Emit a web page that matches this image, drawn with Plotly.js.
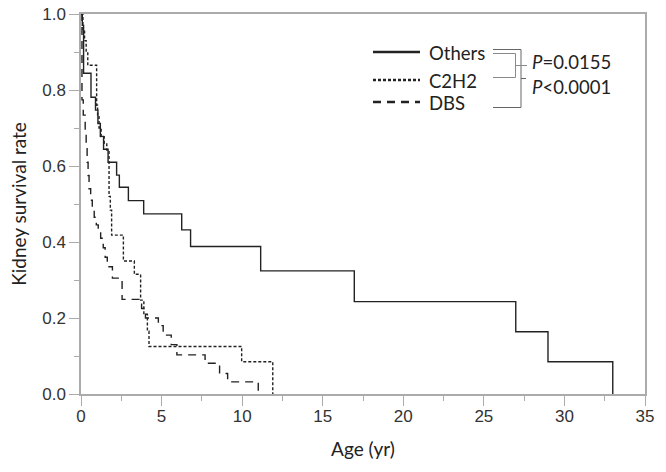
<!DOCTYPE html>
<html>
<head>
<meta charset="utf-8">
<script src="https://cdn.plot.ly/plotly-3.0.1.min.js"></script>
<style>
  body { margin: 0; background: #fff; }
  #plot { width: 666px; height: 472px; }
</style>
</head>
<body>
<div id="plot"></div>
<script>
// Kaplan-Meier steps (age in years, survival rate)
var othersAge  = [0, 0.08, 0.16, 0.62, 0.9, 1.05, 1.2, 1.4, 1.68, 2.21, 2.38, 2.94, 3.89, 6.25, 6.8, 11.15, 16.96, 26.98, 28.98, 33.0];
var othersSurv = [1.0, 0.97, 0.844, 0.781, 0.747, 0.712, 0.678, 0.644, 0.61, 0.576, 0.544, 0.509, 0.474, 0.432, 0.388, 0.324, 0.243, 0.164, 0.085, 0];

var c2h2Age  = [0, 0.12, 0.22, 0.32, 0.42, 0.97, 1.03, 1.12, 1.25, 1.44, 1.6, 1.74, 1.82, 1.9, 2.63, 3.31, 3.7, 3.9, 4.12, 4.22, 9.97, 11.9];
var c2h2Surv = [1.0, 0.96, 0.93, 0.9, 0.865, 0.76, 0.73, 0.70, 0.677, 0.66, 0.642, 0.52, 0.484, 0.418, 0.35, 0.315, 0.247, 0.21, 0.165, 0.125, 0.085, 0];

var dbsAge  = [0, 0.06, 0.14, 0.26, 0.32, 0.38, 0.44, 0.5, 0.6, 0.7, 0.82, 0.95, 1.07, 1.22, 1.38, 1.5, 1.63, 1.95, 2.55, 3.76, 4.0, 4.8, 5.1, 5.6, 5.95, 7.7, 8.6, 9.1, 11.0];
var dbsSurv = [1.0, 0.774, 0.734, 0.69, 0.65, 0.61, 0.575, 0.54, 0.51, 0.49, 0.465, 0.445, 0.43, 0.41, 0.385, 0.36, 0.335, 0.305, 0.249, 0.225, 0.2, 0.18, 0.155, 0.13, 0.103, 0.081, 0.054, 0.032, 0];

var groupNames = ['Others', 'C2H2', 'DBS'];
var pValues = ['<i>P</i>=0.0155', '<i>P</i><0.0001'];

var lineCol = '#222';
var axisCol = '#ababab';
var dashes = ['solid', '3px,2px', '8px,6px'];

function curve(x, y, i) {
    return {
        x: x, y: y,
        type: 'scatter',
        mode: 'lines',
        name: groupNames[i],
        line: {shape: 'hv', color: lineCol, width: 1.4, dash: dashes[i]},
        hoverinfo: 'skip'
    };
}

var data = [
    curve(othersAge, othersSurv, 0),
    curve(c2h2Age, c2h2Surv, 1),
    curve(dbsAge, dbsSurv, 2)
];

// plot area in pixels: x 81..645, y 14..394
function px(x) { return (x - 81) / 564; }
function py(y) { return (394 - y) / 380; }

var shapes = [];
var annotations = [];
var legendY = [52, 80, 102];
for (var i = 0; i < 3; i++) {
    shapes.push({type: 'line', xref: 'paper', yref: 'paper',
        x0: px(373), x1: px(420), y0: py(legendY[i]), y1: py(legendY[i]),
        line: {color: lineCol, width: 2.6, dash: dashes[i]}});
    annotations.push({xref: 'paper', yref: 'paper', x: px(427), y: py(legendY[i] + 1),
        xanchor: 'left', yanchor: 'middle', showarrow: false, text: groupNames[i],
        font: {family: 'Lato, sans-serif', size: 18.5, color: '#222'}});
}

// comparison brackets
function bracketPath(x0, x1, y0, y1) {
    return 'M' + px(x0) + ',' + py(y0) + ' L' + px(x1) + ',' + py(y0) +
           ' L' + px(x1) + ',' + py(y1) + ' L' + px(x0) + ',' + py(y1);
}
var brCol = '#8a8a8a';
shapes.push({type: 'path', xref: 'paper', yref: 'paper', path: bracketPath(493, 521, 49.5, 107.5), line: {color: '#666', width: 1}});
shapes.push({type: 'path', xref: 'paper', yref: 'paper', path: bracketPath(493, 515.5, 53.5, 77.5), line: {color: brCol, width: 1}});
shapes.push({type: 'line', xref: 'paper', yref: 'paper', x0: px(515.5), x1: px(527), y0: py(65.5), y1: py(65.5), line: {color: brCol, width: 1}});
shapes.push({type: 'line', xref: 'paper', yref: 'paper', x0: px(521), x1: px(526), y0: py(78.5), y1: py(78.5), line: {color: '#666', width: 1}});

var pY = [61.5, 87];
for (var j = 0; j < 2; j++) {
    annotations.push({xref: 'paper', yref: 'paper', x: px(530), y: py(pY[j]),
        xanchor: 'left', yanchor: 'middle', showarrow: false, text: pValues[j],
        font: {family: 'Lato, sans-serif', size: 18.5, color: '#222'}});
}

var tickFont = {family: 'Liberation Sans, Arial, sans-serif', size: 17, color: '#333'};
var titleFont = {family: 'Lato, sans-serif', size: 19, color: '#222'};

var layout = {
    width: 666,
    height: 472,
    margin: {l: 81, r: 21, t: 14, b: 78},
    paper_bgcolor: '#fff',
    plot_bgcolor: '#fff',
    showlegend: false,
    xaxis: {
        range: [0, 35],
        dtick: 5,
        ticks: 'outside', ticklen: 10, tickcolor: axisCol, tickwidth: 1,
        ticklabelstandoff: -4,
        minor: {dtick: 2.5, ticks: 'outside', ticklen: 5, tickcolor: axisCol, showgrid: false},
        showline: true, linecolor: axisCol, linewidth: 1.5, mirror: true,
        showgrid: false, zeroline: false,
        tickfont: tickFont,
        title: {text: 'Age (yr)', font: titleFont, standoff: 18}
    },
    yaxis: {
        range: [0, 1],
        dtick: 0.2, tickformat: '.1f',
        ticks: 'outside', ticklen: 10, tickcolor: axisCol, tickwidth: 1,
        minor: {dtick: 0.1, ticks: 'outside', ticklen: 5, tickcolor: axisCol, showgrid: false},
        showline: true, linecolor: axisCol, linewidth: 1.5, mirror: true,
        showgrid: false, zeroline: false,
        tickfont: tickFont,
        title: {text: 'Kidney survival rate', font: titleFont, standoff: 11}
    },
    shapes: shapes,
    annotations: annotations
};

Plotly.newPlot('plot', data, layout, {displayModeBar: false});
</script>
</body>
</html>
